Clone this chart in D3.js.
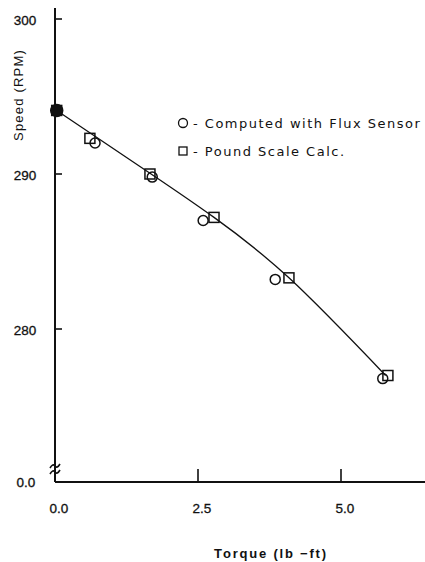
<!DOCTYPE html>
<html>
<head>
<meta charset="utf-8">
<script src="https://cdn.jsdelivr.net/npm/d3@7"></script>
<style>
  body { margin: 0; background: #fff; }
  svg { display: block; }
  .lbl { font-family: "Liberation Sans", Arial, sans-serif; fill: #111; }
  .leg { font-family: "DejaVu Sans", sans-serif; fill: #111; }
</style>
</head>
<body>
<svg id="chart" width="425" height="562"></svg>
<script>
// values
var fluxTorque = [0.03, 0.70, 1.70, 2.59, 3.85, 5.73];
var fluxSpeed  = [294.1, 292.0, 289.8, 287.0, 283.2, 276.8];

var scaleTorque = [0.03, 0.61, 1.66, 2.78, 4.09, 5.82];
var scaleSpeed  = [294.1, 292.3, 290.0, 287.2, 283.3, 277.0];

// hand-drawn fit curve
var curveTorque = [0.03, 1.68, 2.78, 4.09, 5.78];
var curveSpeed  = [294.1, 290.0, 287.2, 283.3, 277.0];

var xTicks = [0.0, 2.5, 5.0];
var yTicks = [280, 290, 300];

var svg = d3.select("#chart");

var x = d3.scaleLinear().domain([0, 5]).range([55, 341]);
var y = d3.scaleLinear().domain([280, 300]).range([329, 19]);
var yZero = 482;

var ink = "#111";

// axes lines
svg.append("line")
	.attr("x1", x(0)).attr("x2", x(0))
	.attr("y1", 8).attr("y2", yZero)
	.attr("stroke", ink).attr("stroke-width", 2);

svg.append("line")
	.attr("x1", x(0)).attr("x2", 425)
	.attr("y1", yZero).attr("y2", yZero)
	.attr("stroke", ink).attr("stroke-width", 2);

// y ticks (inside) and labels
svg.selectAll(".ytick")
	.data(yTicks)
	.enter().append("line")
	.attr("class", "ytick")
	.attr("x1", x(0)).attr("x2", x(0) + 7)
	.attr("y1", function(d) { return y(d); })
	.attr("y2", function(d) { return y(d); })
	.attr("stroke", ink).attr("stroke-width", 1.6);

svg.selectAll(".ylab")
	.data(yTicks)
	.enter().append("text")
	.attr("class", "lbl")
	.attr("x", 25)
	.attr("y", function(d) { return y(d) + 1; })
	.attr("dy", "0.35em")
	.attr("text-anchor", "middle")
	.style("font-size", "13.5px")
	.style("stroke", ink).style("stroke-width", 0.3)
	.text(function(d) { return d; });

svg.append("text")
	.attr("class", "lbl")
	.attr("x", 26).attr("y", yZero)
	.attr("dy", "0.35em")
	.attr("text-anchor", "middle")
	.style("font-size", "13.5px")
	.style("stroke", ink).style("stroke-width", 0.3)
	.text("0.0");

// axis break mark
[466, 472].forEach(function(yy) {
	svg.append("path")
		.attr("d", "M" + (x(0) - 5) + "," + (yy + 2) + " q3,-5 5,-2 q2,3 5,-2")
		.attr("fill", "none").attr("stroke", ink).attr("stroke-width", 1.6);
});

// x ticks (upward) and labels
svg.selectAll(".xtick")
	.data(xTicks)
	.enter().append("line")
	.attr("x1", function(d) { return x(d); })
	.attr("x2", function(d) { return x(d); })
	.attr("y1", yZero).attr("y2", yZero - 13)
	.attr("stroke", ink).attr("stroke-width", 1.6);

svg.selectAll(".xlab")
	.data(xTicks)
	.enter().append("text")
	.attr("class", "lbl")
	.attr("x", function(d) { return x(d) + 4; })
	.attr("y", 508)
	.attr("dy", "0.35em")
	.attr("text-anchor", "middle")
	.style("font-size", "13.5px")
	.style("stroke", ink).style("stroke-width", 0.3)
	.text(function(d) { return d3.format(".1f")(d); });

// axis titles
svg.append("text")
	.attr("class", "lbl")
	.attr("x", 271).attr("y", 553)
	.attr("dy", "0.35em")
	.attr("text-anchor", "middle")
	.style("font-size", "13px")
	.style("font-weight", "bold")
	.style("letter-spacing", "1.8px")
	.text("Torque (lb \u2212ft)");

svg.append("text")
	.attr("class", "lbl")
	.attr("transform", "translate(18,95) rotate(-90)")
	.attr("dy", "0.35em")
	.attr("text-anchor", "middle")
	.style("font-size", "13px")
	.style("letter-spacing", "1.2px")
	.text("Speed (RPM)");

// fit curve
var curvePts = curveTorque.map(function(t, i) { return [t, curveSpeed[i]]; });
svg.append("path")
	.datum(curvePts)
	.attr("fill", "none")
	.attr("stroke", ink)
	.attr("stroke-width", 1.3)
	.attr("d", d3.line()
		.x(function(d) { return x(d[0]); })
		.y(function(d) { return y(d[1]); })
		.curve(d3.curveNatural));

// square markers
var sq = 10;
svg.selectAll(".sq")
	.data(scaleTorque)
	.enter().append("rect")
	.attr("x", function(d) { return x(d) - sq / 2; })
	.attr("y", function(d, i) { return y(scaleSpeed[i]) - sq / 2; })
	.attr("width", sq).attr("height", sq)
	.attr("fill", "none")
	.attr("stroke", ink).attr("stroke-width", 1.5);

// circle markers
svg.selectAll(".circ")
	.data(fluxTorque)
	.enter().append("circle")
	.attr("cx", function(d) { return x(d); })
	.attr("cy", function(d, i) { return y(fluxSpeed[i]); })
	.attr("r", function(d, i) { return i === 0 ? 6 : 5; })
	.attr("fill", function(d, i) { return i === 0 ? ink : "none"; })
	.attr("stroke", ink).attr("stroke-width", 1.5);

// legend
svg.append("circle")
	.attr("cx", 183).attr("cy", 123).attr("r", 4.5)
	.attr("fill", "none").attr("stroke", ink).attr("stroke-width", 1.3);
svg.append("rect")
	.attr("x", 179).attr("y", 147).attr("width", 8).attr("height", 8)
	.attr("fill", "none").attr("stroke", ink).attr("stroke-width", 1.3);

svg.append("text")
	.attr("class", "leg")
	.attr("x", 193).attr("y", 123)
	.attr("dy", "0.35em")
	.style("font-size", "13px")
	.style("letter-spacing", "1.5px")
	.text("- Computed with Flux Sensor");

svg.append("text")
	.attr("class", "leg")
	.attr("x", 193).attr("y", 151)
	.attr("dy", "0.35em")
	.style("font-size", "13px")
	.style("letter-spacing", "1.5px")
	.text("- Pound Scale Calc.");
</script>
</body>
</html>
